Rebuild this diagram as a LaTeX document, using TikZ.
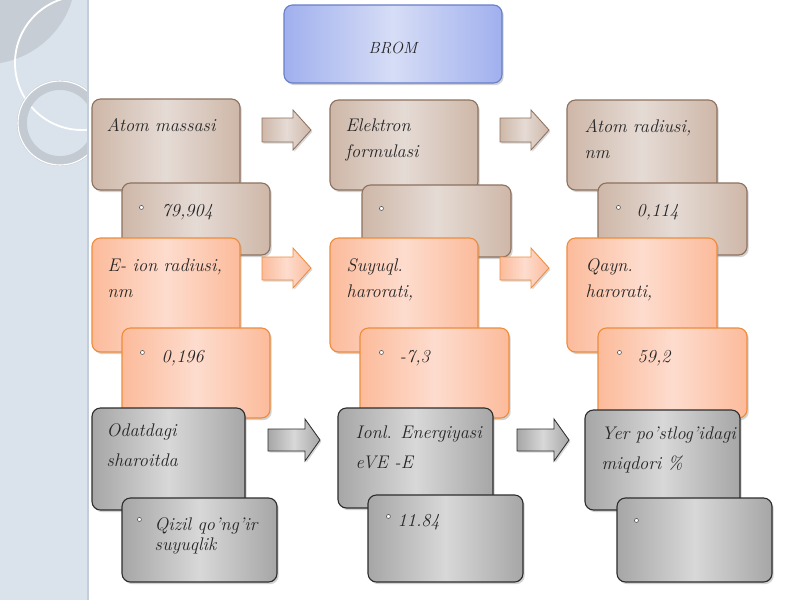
\documentclass[tikz,border=0pt]{standalone}
\usepackage{tikz}
\usetikzlibrary{fit,shadows}
\newdimen\px \px=0.025cm

\definecolor{panel}{RGB}{218,227,236}
\definecolor{panelline}{RGB}{196,206,218}
\definecolor{lens}{RGB}{198,205,212}
\definecolor{ring}{RGB}{196,202,210}
\definecolor{brownedge}{RGB}{206,183,168}
\definecolor{brownmid}{RGB}{229,219,213}
\definecolor{brownline}{RGB}{141,113,94}
\definecolor{orngedge}{RGB}{252,187,155}
\definecolor{orngmid}{RGB}{253,220,206}
\definecolor{orngline}{RGB}{238,140,62}
\definecolor{greyedge}{RGB}{166,166,166}
\definecolor{greymid}{RGB}{216,216,216}
\definecolor{greyline}{RGB}{45,45,45}
\definecolor{blueedge}{RGB}{160,176,238}
\definecolor{bluemid}{RGB}{214,221,246}
\definecolor{blueline}{RGB}{104,126,200}

\begin{document}
\begin{tikzpicture}[x=0.025cm,y=-0.025cm,
	box/.style={rounded corners=6pt, inner sep=0pt, line width=0.8pt,
		drop shadow={shadow xshift=1.2pt, shadow yshift=-1.5pt, opacity=0.35}},
	brownbox/.style={box, draw=brownline, left color=brownedge, right color=brownedge, middle color=brownmid},
	orngbox/.style={box, draw=orngline, left color=orngedge, right color=orngedge, middle color=orngmid},
	greybox/.style={box, draw=greyline, left color=greyedge, right color=greyedge, middle color=greymid},
	bluebox/.style={box, draw=blueline, left color=blueedge, right color=blueedge, middle color=bluemid},
	brownarr/.style={draw=brownline, line width=0.6pt, left color=brownedge, right color=brownedge, middle color=brownmid,
		drop shadow={shadow xshift=1pt, shadow yshift=-1.2pt, opacity=0.3}},
	orngarr/.style={brownarr, draw=orngline, left color=orngedge, right color=orngedge, middle color=orngmid},
	greyarr/.style={brownarr, draw=greyline, left color=greyedge, right color=greyedge, middle color=greymid},
	txt/.style={anchor=base west, inner sep=0pt, align=left, text=black!85,
		font=\fontsize{13}{18.5}\selectfont\itshape},
	wtxt/.style={txt, font=\fontsize{13}{21}\selectfont\itshape},
	dot/.style={circle, draw=black!70, fill=white, inner sep=0pt, minimum size=4\px, line width=0.4pt}]

	\useasboundingbox (0,0) rectangle (800,600);
	\fill[white] (0,0) rectangle (800,600);

	\fill[panel] (0,0) rectangle (88,600);
	\begin{scope}
		\clip (0,0) rectangle (88,600);
		\fill[lens] (0,0) -- (72,0) .. controls (62,34) and (32,58) .. (0,63) -- cycle;
		\draw[white, line width=1.3pt] (82,63) circle (67);
		\draw[ring, line width=7pt] (60,123) circle (38);
		\draw[white, line width=0.8pt] (60,123) circle (42);
	\end{scope}
	\draw[panelline, line width=1.5pt] (88,0) -- (88,600);

	\node[bluebox, fit={(284,5) (502,83)}] (brom) {};
	\node[txt, anchor=center, font=\fontsize{11.5}{13}\selectfont\itshape] (brom-t) at ([shift={(0,4)}]brom.center) {BROM};

	\foreach \x in {262,500}
		\draw[brownarr] (\x,118) -- (\x+31,118) -- (\x+31,110) -- (\x+49,130) -- (\x+31,150) -- (\x+31,142) -- (\x,142) -- cycle;

	\node[brownbox, fit={(92,99) (240,190)}] (mass) {};
	\node[txt] (mass-t) at ([shift={(15,33)}]mass.north west) {Atom massasi};
	\node[brownbox, fit={(122,183) (270,255)}] (mass-v) {};
	\node[dot] (mass-b) at ([shift={(20,25)}]mass-v.north west) {};
	\node[txt] (mass-n) at ([shift={(40,34)}]mass-v.north west) {79,904};

	\node[brownbox, fit={(330,100) (478,190)}] (elek) {};
	\node[txt] (elek-t) at ([shift={(16,58)}]elek.north west) {Elektron\\formulasi};
	\node[brownbox, fit={(362,185) (511,257)}] (elek-v) {};
	\node[dot] (elek-b) at ([shift={(20,24)}]elek-v.north west) {};

	\node[brownbox, fit={(567,100) (717,190)}] (arad) {};
	\node[txt] (arad-t) at ([shift={(18,59)}]arad.north west) {Atom radiusi,\\nm};
	\node[brownbox, fit={(598,183) (747,255)}] (arad-v) {};
	\node[dot] (arad-b) at ([shift={(21,25)}]arad-v.north west) {};
	\node[txt] (arad-n) at ([shift={(39,34)}]arad-v.north west) {0,114};

	\foreach \x in {262,500}
		\draw[orngarr] (\x,257) -- (\x+31,257) -- (\x+31,248) -- (\x+49,268) -- (\x+31,288) -- (\x+31,280) -- (\x,280) -- cycle;

	\node[orngbox, fit={(92,238) (240,352)}] (irad) {};
	\node[txt] (irad-t) at ([shift={(16,60)}]irad.north west) {E- ion radiusi,\\nm};
	\node[orngbox, fit={(122,328) (270,418)}] (irad-v) {};
	\node[dot] (irad-b) at ([shift={(21,25)}]irad-v.north west) {};
	\node[txt] (irad-n) at ([shift={(40,35)}]irad-v.north west) {0,196};

	\node[orngbox, fit={(330,238) (478,352)}] (suyq) {};
	\node[txt] (suyq-t) at ([shift={(17,60)}]suyq.north west) {Suyuql.\\harorati,};
	\node[orngbox, fit={(360,328) (509,418)}] (suyq-v) {};
	\node[dot] (suyq-b) at ([shift={(22,25)}]suyq-v.north west) {};
	\node[txt] (suyq-n) at ([shift={(40,35)}]suyq-v.north west) {-7,3};

	\node[orngbox, fit={(567,238) (717,352)}] (qayn) {};
	\node[txt] (qayn-t) at ([shift={(19,60)}]qayn.north west) {Qayn.\\harorati,};
	\node[orngbox, fit={(598,328) (747,418)}] (qayn-v) {};
	\node[dot] (qayn-b) at ([shift={(22,25)}]qayn-v.north west) {};
	\node[txt] (qayn-n) at ([shift={(40,35)}]qayn-v.north west) {59,2};

	\foreach \x in {268,517}
		\draw[greyarr] (\x,429) -- (\x+37,429) -- (\x+37,419) -- (\x+52,440) -- (\x+37,461) -- (\x+37,451) -- (\x,451) -- cycle;

	\node[greybox, fit={(92,408) (245,510)}] (odat) {};
	\node[wtxt] (odat-t) at ([shift={(15,59)}]odat.north west) {Odatdagi\\ sharoitda};
	\node[greybox, fit={(122,498) (277,582)}] (odat-v) {};
	\node[dot] (odat-b) at ([shift={(18,22)}]odat-v.north west) {};
	\node[txt, font=\fontsize{13}{14.5}\selectfont\itshape] (odat-n) at ([shift={(33,53)}]odat-v.north west) {Qizil qo'ng'ir\\ suyuqlik};

	\node[greybox, fit={(338,408) (493,508)}] (ione) {};
	\node[wtxt] (ione-t) at ([shift={(18,61)}]ione.north west) {Ionl. Energiyasi\\ eVE -E};
	\node[greybox, fit={(368,495) (523,582)}] (ione-v) {};
	\node[dot] (ione-b) at ([shift={(21,22)}]ione-v.north west) {};
	\node[txt] (ione-n) at ([shift={(30,32)}]ione-v.north west) {11.84};

	\node[greybox, fit={(585,410) (740,510)}] (yerp) {};
	\node[wtxt] (yerp-t) at ([shift={(17,60)}]yerp.north west) {Yer po'stlog'idagi\\miqdori \%};
	\node[greybox, fit={(617,498) (772,582)}] (yerp-v) {};
	\node[dot] (yerp-b) at ([shift={(20,23)}]yerp-v.north west) {};
\end{tikzpicture}
\end{document}
